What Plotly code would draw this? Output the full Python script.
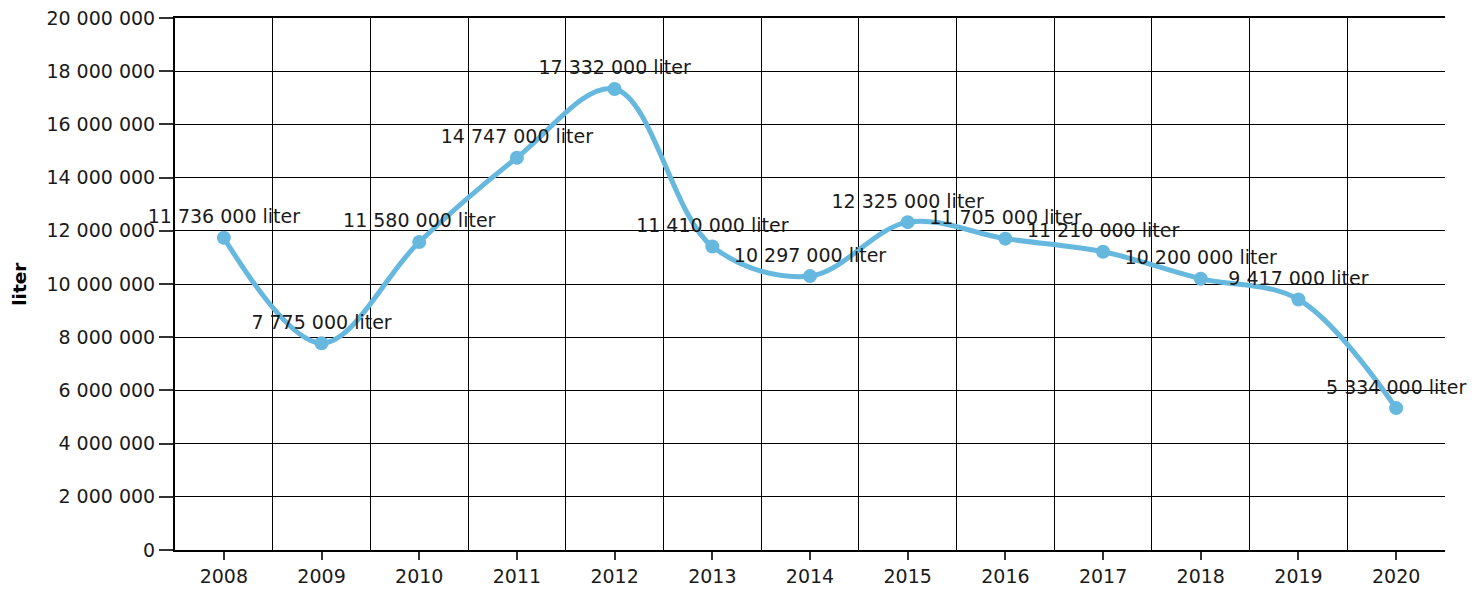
import plotly.graph_objects as go

years = [2008, 2009, 2010, 2011, 2012, 2013, 2014, 2015, 2016, 2017, 2018, 2019, 2020]
values = [11736000, 7775000, 11580000, 14747000, 17332000, 11410000, 10297000,
          12325000, 11705000, 11210000, 10200000, 9417000, 5334000]
y_ticks = list(range(0, 20000001, 2000000))

font = "DejaVu Sans, Verdana, sans-serif"

fig = go.Figure()
fig.add_trace(go.Scatter(
    x=years, y=values,
    mode="lines+markers+text",
    line=dict(color="#66b8de", width=5, shape="spline", smoothing=1),
    marker=dict(color="#66b8de", size=14),
    texttemplate="%{y:,d} liter",
    textposition="top center",
    textfont=dict(family=font, size=19, color="#1a1a1a"),
    cliponaxis=False,
    showlegend=False,
))

fig.update_layout(
    width=1480, height=592,
    margin=dict(l=167, r=43, t=10, b=50),
    plot_bgcolor="white", paper_bgcolor="white",
    separators=", ",
    font=dict(family=font, size=19, color="#1a1a1a"),
    xaxis=dict(
        range=[2007.5, 2020.5],
        tickvals=years, ticktext=[str(y) for y in years],
        ticks="outside", ticklen=8, tickcolor="#333", tickwidth=1.5,
        showgrid=False, zeroline=False,
        showline=True, linecolor="black", linewidth=2, mirror=True,
        minor=dict(tick0=2007.5, dtick=1, showgrid=True, gridcolor="black", gridwidth=1, ticks=""),
        automargin=False, ticklabeloverflow="allow",
    ),
    yaxis=dict(
        range=[0, 20000000],
        tickvals=y_ticks, tickformat=",d",
        ticks="outside", ticklen=14, tickcolor="#333", tickwidth=1.5,
        showgrid=True, gridcolor="black", gridwidth=1,
        zeroline=False,
        showline=True, linecolor="black", linewidth=2,
        automargin=False, ticklabeloverflow="allow",
    ),
    annotations=[dict(
        text="<b>liter</b>", textangle=-90,
        xref="paper", yref="paper", x=-0.123, y=0.5,
        xanchor="center", yanchor="middle", showarrow=False,
        font=dict(family=font, size=18.5, color="black"),
    )],
)

fig.write_html("out.html")
